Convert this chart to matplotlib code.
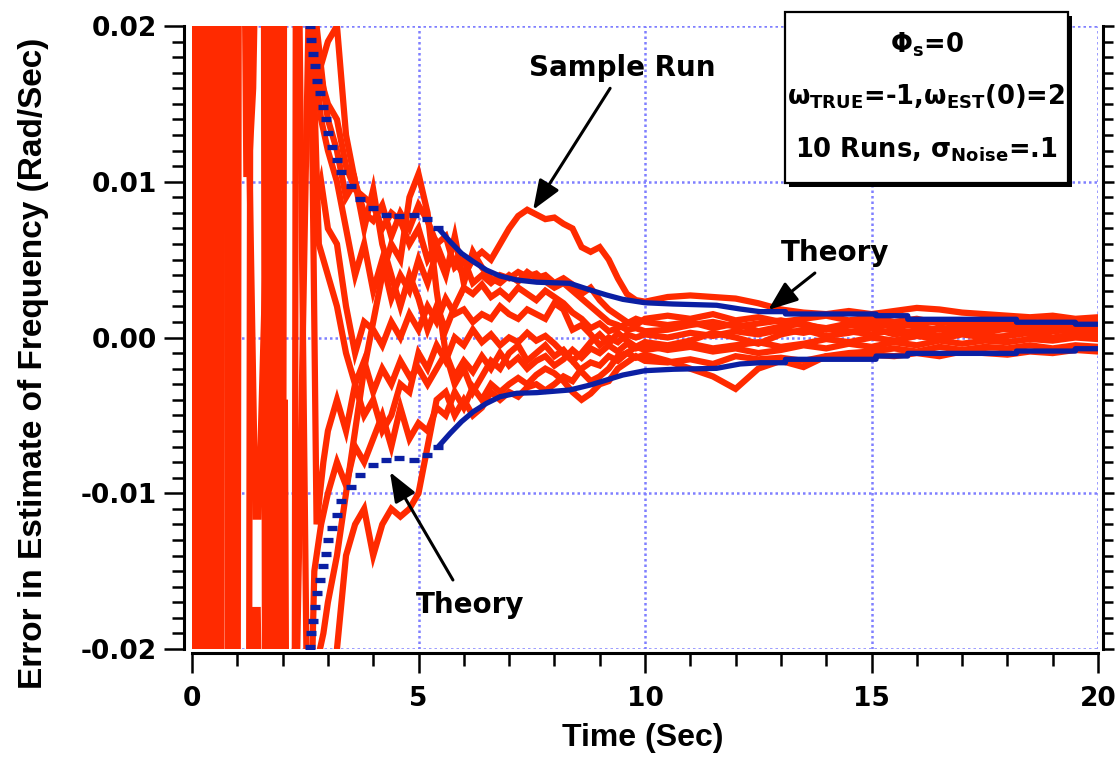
import matplotlib
matplotlib.use("Agg")
import matplotlib.pyplot as plt
from matplotlib.patches import Rectangle
from matplotlib.ticker import MultipleLocator, FuncFormatter
import numpy as np

# ---- data (frequency errors in units of 1e-3 rad/s) ----
# start-up transient: each run has its own sample times
runs_early_t = [
    [0.0, 0.03, 0.3, 0.33, 0.76, 0.8, 1.0, 1.04, 1.12, 1.2, 1.25, 1.35, 1.5, 2.5, 2.7, 2.9, 3.0],
    [0.0, 0.07, 0.37, 0.4, 0.8, 0.84, 1.1, 1.4, 1.47, 1.63, 1.68, 1.75, 2.45, 2.62, 2.8, 3.0],
    [0.0, 0.1, 0.44, 0.47, 0.92, 0.96, 1.3, 1.38, 1.45, 1.55, 1.83, 1.87, 2.3, 2.6, 2.75, 2.9, 3.0],
    [0.0, 0.14, 0.5, 0.54, 0.64, 0.67, 1.66, 1.7, 2.48, 2.62, 2.8, 3.0],
    [0.0, 0.17, 0.57, 0.6, 0.94, 0.97, 1.93, 1.97, 2.4, 2.7, 2.85, 3.0],
    [0.0, 0.21, 0.6, 0.63, 2.0, 2.05, 2.1, 2.26, 2.3, 2.55, 2.75, 2.9, 3.0],
    [0.0, 0.18, 0.21, 0.82, 0.85, 2.5, 2.7, 2.85, 3.0],
    [0.0, 0.24, 0.27, 1.8, 1.84, 2.6, 2.7, 2.85, 3.0],
    [0.0, 0.05, 0.55, 0.58, 1.72, 1.76, 2.2, 2.6, 2.8, 3.0],
    [0.0, 0.12, 0.15, 0.9, 0.94, 1.25, 1.3, 1.58, 1.62, 2.0, 2.04, 2.55, 2.75, 2.9, 3.0],
]
runs_early_v = [
    [40, -40, -40, 40, 40, -40, -40, 40, 40, 10.5, 10.5, 16, 40, 40, 19, 16, 15],
    [-40, 40, 40, -40, -40, 40, 40, -11.5, -11.5, 5.5, 5.5, 40, 40, 20, 17, 19],
    [40, -40, -40, 40, 40, -40, -40, -17.5, -17.5, -40, -40, 40, 40, -40, -21, -19, -17],
    [-40, 40, 40, -40, -40, 40, 40, -40, -40, -20, -24, -22],
    [40, -40, -40, 40, 40, -40, -40, 40, 40, 8, 10, 7],
    [-40, 40, 40, -40, -40, -4, -40, -40, 40, 40, -12, -8, -6],
    [-40, -40, 40, 40, -40, -40, -15, -12, -10],
    [40, 40, -40, -40, 40, 40, 18, 14, 12],
    [40, -40, -40, 40, 40, -40, -40, 25, 6, 4],
    [-40, -40, 40, 40, -40, -40, 40, 40, -40, -40, 40, 40, 20, 16, 14],
]
t_mid = [3.2, 3.4, 3.6, 3.8, 4.0, 4.2, 4.4, 4.6, 4.8, 5.0, 5.2, 5.4,
         5.6, 5.8, 6.0, 6.2, 6.4, 6.6, 6.8, 7.0, 7.2, 7.4, 7.6, 7.8,
         8.0, 8.2, 8.4, 8.6, 8.8, 9.0, 9.2, 9.4, 9.6, 9.8, 10.0]
t_late = [10.5, 11.0, 11.5, 12.0, 12.5, 13.0, 13.5, 14.0, 14.5, 15.0,
          15.5, 16.0, 16.5, 17.0, 17.5, 18.0, 18.5, 19.0, 19.5, 20.0]
runs_mid = [
    [14, 11, 9.5, 9, 8.5, 7, 8, 7.5, 6, 7, 5, 6, 4.5, 5, 4, 5, 5.5, 5, 6, 7,
     7.8, 8.2, 7.9, 7.6, 7.7, 7.3, 7.0, 5.8, 5.5, 5.8, 5.0, 3.8, 2.8, 2.4, 2.3],
    [20, 13, 10, 8, 7.5, 8.5, 6.5, 8, 7, 8.5, 7.5, 6, 6.5, 4.5, 5, 3.5, 4, 3.5, 4, 3.8,
     4.2, 3.9, 4.1, 3.6, 3.2, 3.5, 3.0, 2.5, 2.0, 1.5, 1.0, 0.8, 0.5, 0.6, 0.4],
    [-14, -10, -6, -2, 1, 4, 6, 5, 9, 10.5, 8, 3, -1, -3, -2, -3.5, -2.5, -1.5, -2, -1,
     -0.5, -1.5, -1.0, -0.5, -1.2, -0.8, -1.5, -1.0, -0.3, 0.2, -0.4, 0.3, -0.2, -0.6, -0.3],
    [-20, -14, -12, -11, -14, -12, -11, -11.5, -11, -10, -7, -4, -3.5, -5, -4, -5, -4.5, -3.5, -4, -3.5,
     -3.8, -3.2, -3.0, -3.4, -3.0, -2.5, -2.8, -2.0, -1.6, -1.8, -1.2, -1.5, -1.0, -1.3, -1.1],
    [6, 2, -1, 1, 0.5, -0.5, 1, 0, 1.5, 0.5, 2, 1, 2.5, 1.5, 1.8, 1.0, 1.5, 1.2, 2.0, 1.5,
     1.2, 1.8, 1.5, 1.2, 2.2, 1.8, 0.5, 0.8, 0.2, -0.5, 0.0, -0.3, 0.2, 0.0, 0.2],
    [-4, -6, -3, -5, -4, -6, -5, -3, -3.5, -1, -2, -0.5, -1.5, 0, -0.5, 0.5, -0.3, 0.2, -0.5, 0.0,
     -0.3, 0.3, -0.2, 0.1, -0.4, -1.0, -1.5, -2.2, -2.8, -2.5, -2.0, -1.2, -1.0, -0.6, -0.8],
    [-8, -9.5, -7, -8, -6.5, -5, -7, -4.5, -6.5, -5.5, -6, -4.5, -5, -3.5, -4.5, -3.2, -4.0, -3.0, -3.5, -3.0,
     -2.6, -3.0, -2.4, -2.0, -2.3, -2.8, -3.5, -4.0, -3.6, -3.0, -2.8, -2.0, -1.6, -1.2, -1.5],
    [10, 7, 4, 6, 3, 5, 2.5, 4, 3, 5, 3.5, 5.5, 4, 6.5, 3.5, 5.5, 4.5, 3.8, 3.5, 4.0,
     3.6, 4.2, 3.8, 4.0, 3.5, 3.8, 3.4, 2.8, 3.2, 2.4, 1.8, 1.4, 1.0, 0.8, 1.2],
    [2, -1, -3, -1.5, -3.5, -2, -3, -1.5, -2.5, -2, -3, -2, -1, -2.5, -1.5, -2.2, -1.2, -2.0, -1.0, -1.8,
     -1.3, -2.0, -1.5, -1.2, -1.8, -1.4, -0.8, -1.3, -0.7, -1.0, -0.5, -0.9, -0.4, -0.7, -0.5],
    [12, 9, 10, 7, 9.5, 6, 4, 2, 4, 2.5, 0.5, 2, 0.5, 2.0, 3.2, 2.8, 3.4, 2.6, 3.0, 2.5,
     3.2, 2.8, 2.4, 3.0, 2.6, 2.2, 1.6, 1.2, 0.6, 0.9, 0.4, 0.6, 0.9, 1.2, 1.0],
]
runs_late = [
    [2.6, 2.7, 2.6, 2.5, 2.2, 1.8, 1.6, 1.5, 1.7, 1.5, 1.7, 1.9, 1.8, 1.6, 1.5, 1.4, 1.3, 1.4, 1.2, 1.3],
    [0.5, 0.8, 1.0, 0.7, 0.9, 1.1, 0.8, 0.6, 0.9, 1.0, 0.7, 0.9, 1.1, 0.8, 0.9, 1.0, 0.7, 0.9, 0.8, 0.9],
    [-0.5, -0.2, 0.3, 0.0, -0.4, 0.2, 0.5, 0.1, 0.3, 0.6, 0.2, 0.4, 0.1, 0.5, 0.3, 0.6, 0.2, 0.4, 0.5, 0.3],
    [-1.5, -2.0, -2.5, -3.3, -2.0, -1.5, -1.9, -1.2, -1.0, -0.9, -0.7, -0.9, -0.6, -0.8, -0.6, -0.7, -0.5, -0.7, -0.5, -0.6],
    [0.0, 0.3, 0.1, 0.4, 0.2, 0.5, 0.3, 0.6, 0.4, 0.2, 0.5, 0.3, 0.6, 0.4, 0.7, 0.5, 0.4, 0.6, 0.5, 0.7],
    [-0.6, -0.4, -0.7, -0.5, -0.3, -0.6, -0.4, -0.1, -0.3, 0.0, -0.2, 0.1, -0.1, 0.2, 0.0, 0.1, 0.3, 0.0, 0.2, 0.1],
    [-1.6, -1.4, -1.7, -1.2, -1.4, -1.3, -1.5, -1.2, -1.3, -1.1, -1.2, -1.0, -1.2, -0.9, -1.0, -1.1, -0.9, -1.0, -0.8, -0.9],
    [1.4, 1.2, 1.5, 1.1, 1.3, 1.0, 1.2, 1.4, 1.1, 1.3, 1.0, 1.2, 0.9, 1.1, 1.0, 1.2, 0.9, 1.1, 1.0, 1.2],
    [-0.8, -0.6, -0.9, -0.7, -1.0, -0.8, -0.5, -0.7, -0.4, -0.6, -0.3, -0.5, -0.2, -0.4, -0.2, -0.3, -0.1, -0.2, 0.0, -0.1],
    [0.8, 1.0, 0.6, 0.9, 0.4, 0.7, 0.9, 0.5, 0.8, 0.6, 0.9, 0.7, 0.5, 0.8, 0.6, 0.9, 0.7, 0.8, 0.6, 0.7],
]

# theory (+/- one sigma), early part drawn as separate dashes
theory_dash_t = [2.60, 2.63, 2.68, 2.72, 2.77, 2.83, 2.90, 2.95, 3.01, 3.10,
                 3.19, 3.30, 3.50, 3.71, 4.00, 4.28, 4.57, 4.89, 5.18, 5.44]
theory_dash_hi = [20.0, 19.1, 18.2, 17.4, 16.5, 15.7, 14.8, 14.0, 13.1, 12.25,
                  11.4, 10.6, 9.7, 8.9, 8.3, 7.87, 7.82, 7.87, 7.6, 7.0]
theory_dash_lo = [-19.9, -19.0, -18.2, -17.3, -16.4, -15.6, -14.7, -13.9, -13.0, -12.2,
                  -11.4, -10.5, -9.6, -8.8, -8.2, -7.87, -7.76, -7.87, -7.54, -7.0]
theory_t = [5.44, 5.70, 5.95, 6.21, 6.50, 6.80, 7.17, 7.61, 8.34, 8.79, 9.15, 9.51, 10.0, 10.62,
            11.58, 12.1, 12.54, 13.1, 13.1, 15.1, 15.1, 15.8, 15.8, 18.2, 18.2, 19.5, 19.5, 20.0]
theory_hi = [7.0, 6.15, 5.4, 4.87, 4.33, 3.95, 3.69, 3.55, 3.48, 3.05, 2.73, 2.45, 2.23, 2.15,
             2.07, 1.83, 1.66, 1.66, 1.51, 1.51, 1.40, 1.40, 1.17, 1.17, 0.98, 0.98, 0.85, 0.85]
theory_lo = [-7.0, -6.15, -5.4, -4.76, -4.23, -3.8, -3.58, -3.54, -3.37, -3.05, -2.73, -2.41, -2.13, -2.04,
             -1.98, -1.70, -1.62, -1.62, -1.40, -1.40, -1.19, -1.19, -1.02, -1.02, -0.87, -0.87, -0.72, -0.72]

RED = '#ff2a00'
BLUE = '#0b1fa3'
GRID = '#7f7fff'
W, H = 1118, 760

plt.rcParams['mathtext.fontset'] = 'custom'
plt.rcParams['mathtext.bf'] = 'DejaVu Sans:bold'
plt.rcParams['mathtext.rm'] = 'DejaVu Sans:bold'

fig = plt.figure(figsize=(W / 100, H / 100), dpi=100)
ax = fig.add_axes([192 / W, 1 - 649 / H, 906 / W, 623 / H])

for te, ve, vm, vl in zip(runs_early_t, runs_early_v, runs_mid, runs_late):
    ax.plot(te + t_mid + t_late, np.array(ve + vm + vl) * 1e-3, color=RED, lw=4.5,
            solid_joinstyle='miter', zorder=2)

for vals in (theory_dash_hi, theory_dash_lo):
    ax.plot(theory_dash_t, np.array(vals) * 1e-3, ls='none', marker='_',
            ms=7, mew=3.8, color=BLUE, zorder=3)
for vals in (theory_hi, theory_lo):
    ax.plot(theory_t, np.array(vals) * 1e-3, color=BLUE, lw=3.8,
            solid_capstyle='butt', zorder=3)

ax.set_xlim(0, 20)
ax.set_ylim(-0.02, 0.02)
ax.xaxis.set_major_locator(MultipleLocator(5))
ax.xaxis.set_minor_locator(MultipleLocator(1))
ax.yaxis.set_major_locator(MultipleLocator(0.01))
ax.yaxis.set_minor_locator(MultipleLocator(0.001))
ax.yaxis.set_major_formatter(FuncFormatter(lambda v, p: '%.2f' % (0 if abs(v) < 1e-9 else v)))
ax.xaxis.set_major_formatter(FuncFormatter(lambda v, p: '%d' % v))

ax.grid(True, which='major', color=GRID, ls=(0, (1, 1.2)), lw=1.8, zorder=1)

ax.spines['top'].set_visible(False)
ax.spines['right'].set_visible(False)
ax.spines['left'].set_position(('outward', 5.8))
ax.spines['bottom'].set_position(('outward', 3.0))
for s in ('left', 'bottom'):
    ax.spines[s].set_linewidth(2.2)

ax.tick_params(axis='both', which='both', direction='out', width=1.8)
ax.tick_params(axis='both', which='major', length=14.4)
ax.tick_params(axis='both', which='minor', length=9)
ax.tick_params(axis='y', which='major', pad=5)
ax.tick_params(axis='x', which='major', pad=9)
for lab in ax.get_xticklabels() + ax.get_yticklabels():
    lab.set_fontfamily('DejaVu Sans')
    lab.set_fontweight('bold')
    lab.set_fontsize(19)

# right-hand axis: shorter ticks, no labels
axr = ax.twinx()
axr.set_ylim(ax.get_ylim())
axr.yaxis.set_major_locator(MultipleLocator(0.01))
axr.yaxis.set_minor_locator(MultipleLocator(0.001))
axr.yaxis.set_major_formatter(FuncFormatter(lambda v, p: ''))
for s in ('top', 'left', 'bottom'):
    axr.spines[s].set_visible(False)
axr.spines['right'].set_position(('outward', 3.6))
axr.spines['right'].set_linewidth(2.2)
axr.tick_params(axis='y', which='both', direction='out', width=1.8)
axr.tick_params(axis='y', which='major', length=8)
axr.tick_params(axis='y', which='minor', length=7)

ax.set_xlabel('Time (Sec)', family='Liberation Sans', fontweight='bold', fontsize=23)
ax.set_ylabel('Error in Estimate of Frequency (Rad/Sec)', family='Liberation Sans',
              fontweight='bold', fontsize=24)
ax.xaxis.set_label_coords(0.498, -0.118)
ax.yaxis.set_label_coords(-0.158, 0.458)

# annotations
txt = dict(family='DejaVu Sans', fontweight='bold', fontsize=20, ha='center', va='center')
arw = dict(arrowstyle='-|>,head_length=0.9,head_width=0.35', color='black', lw=2.2,
           mutation_scale=20, shrinkA=0, shrinkB=0)
ax.text(9.49, 0.0173, 'Sample Run', **txt)
ax.annotate('', xy=(7.53, 0.0082), xytext=(9.23, 0.0160), arrowprops=arw)
ax.text(14.19, 0.0054, 'Theory', **txt)
ax.annotate('', xy=(12.72, 0.00177), xytext=(13.75, 0.00414), arrowprops=arw)
ax.text(6.14, -0.0172, 'Theory', **txt)
ax.annotate('', xy=(4.37, -0.00864), xytext=(5.76, -0.01557), arrowprops=arw)

# parameter box with drop shadow
bx0, bx1, by0, by1 = 785, 1068, 12, 183
fig.add_artist(Rectangle(((bx0 + 4) / W, 1 - (by1 + 4) / H), (bx1 - bx0) / W, (by1 - by0) / H,
                         transform=fig.transFigure, facecolor='black', edgecolor='black', lw=0))
fig.add_artist(Rectangle((bx0 / W, 1 - by1 / H), (bx1 - bx0) / W, (by1 - by0) / H,
                         transform=fig.transFigure, facecolor='white', edgecolor='black', lw=1.6))
box_txt = dict(family='DejaVu Sans', fontweight='bold', fontsize=18.5, ha='center', va='center')
cx = (bx0 + bx1) / 2 / W
fig.text(cx, 1 - 45 / H, r'Φ$_{\mathbf{s}}$=0', **box_txt)
fig.text(cx, 1 - 97 / H, r'ω$_{\mathbf{TRUE}}$=-1,ω$_{\mathbf{EST}}$(0)=2', **box_txt)
fig.text(cx, 1 - 150 / H, r'10 Runs, σ$_{\mathbf{Noise}}$=.1', **box_txt)

fig.savefig('out.png', dpi=100)
